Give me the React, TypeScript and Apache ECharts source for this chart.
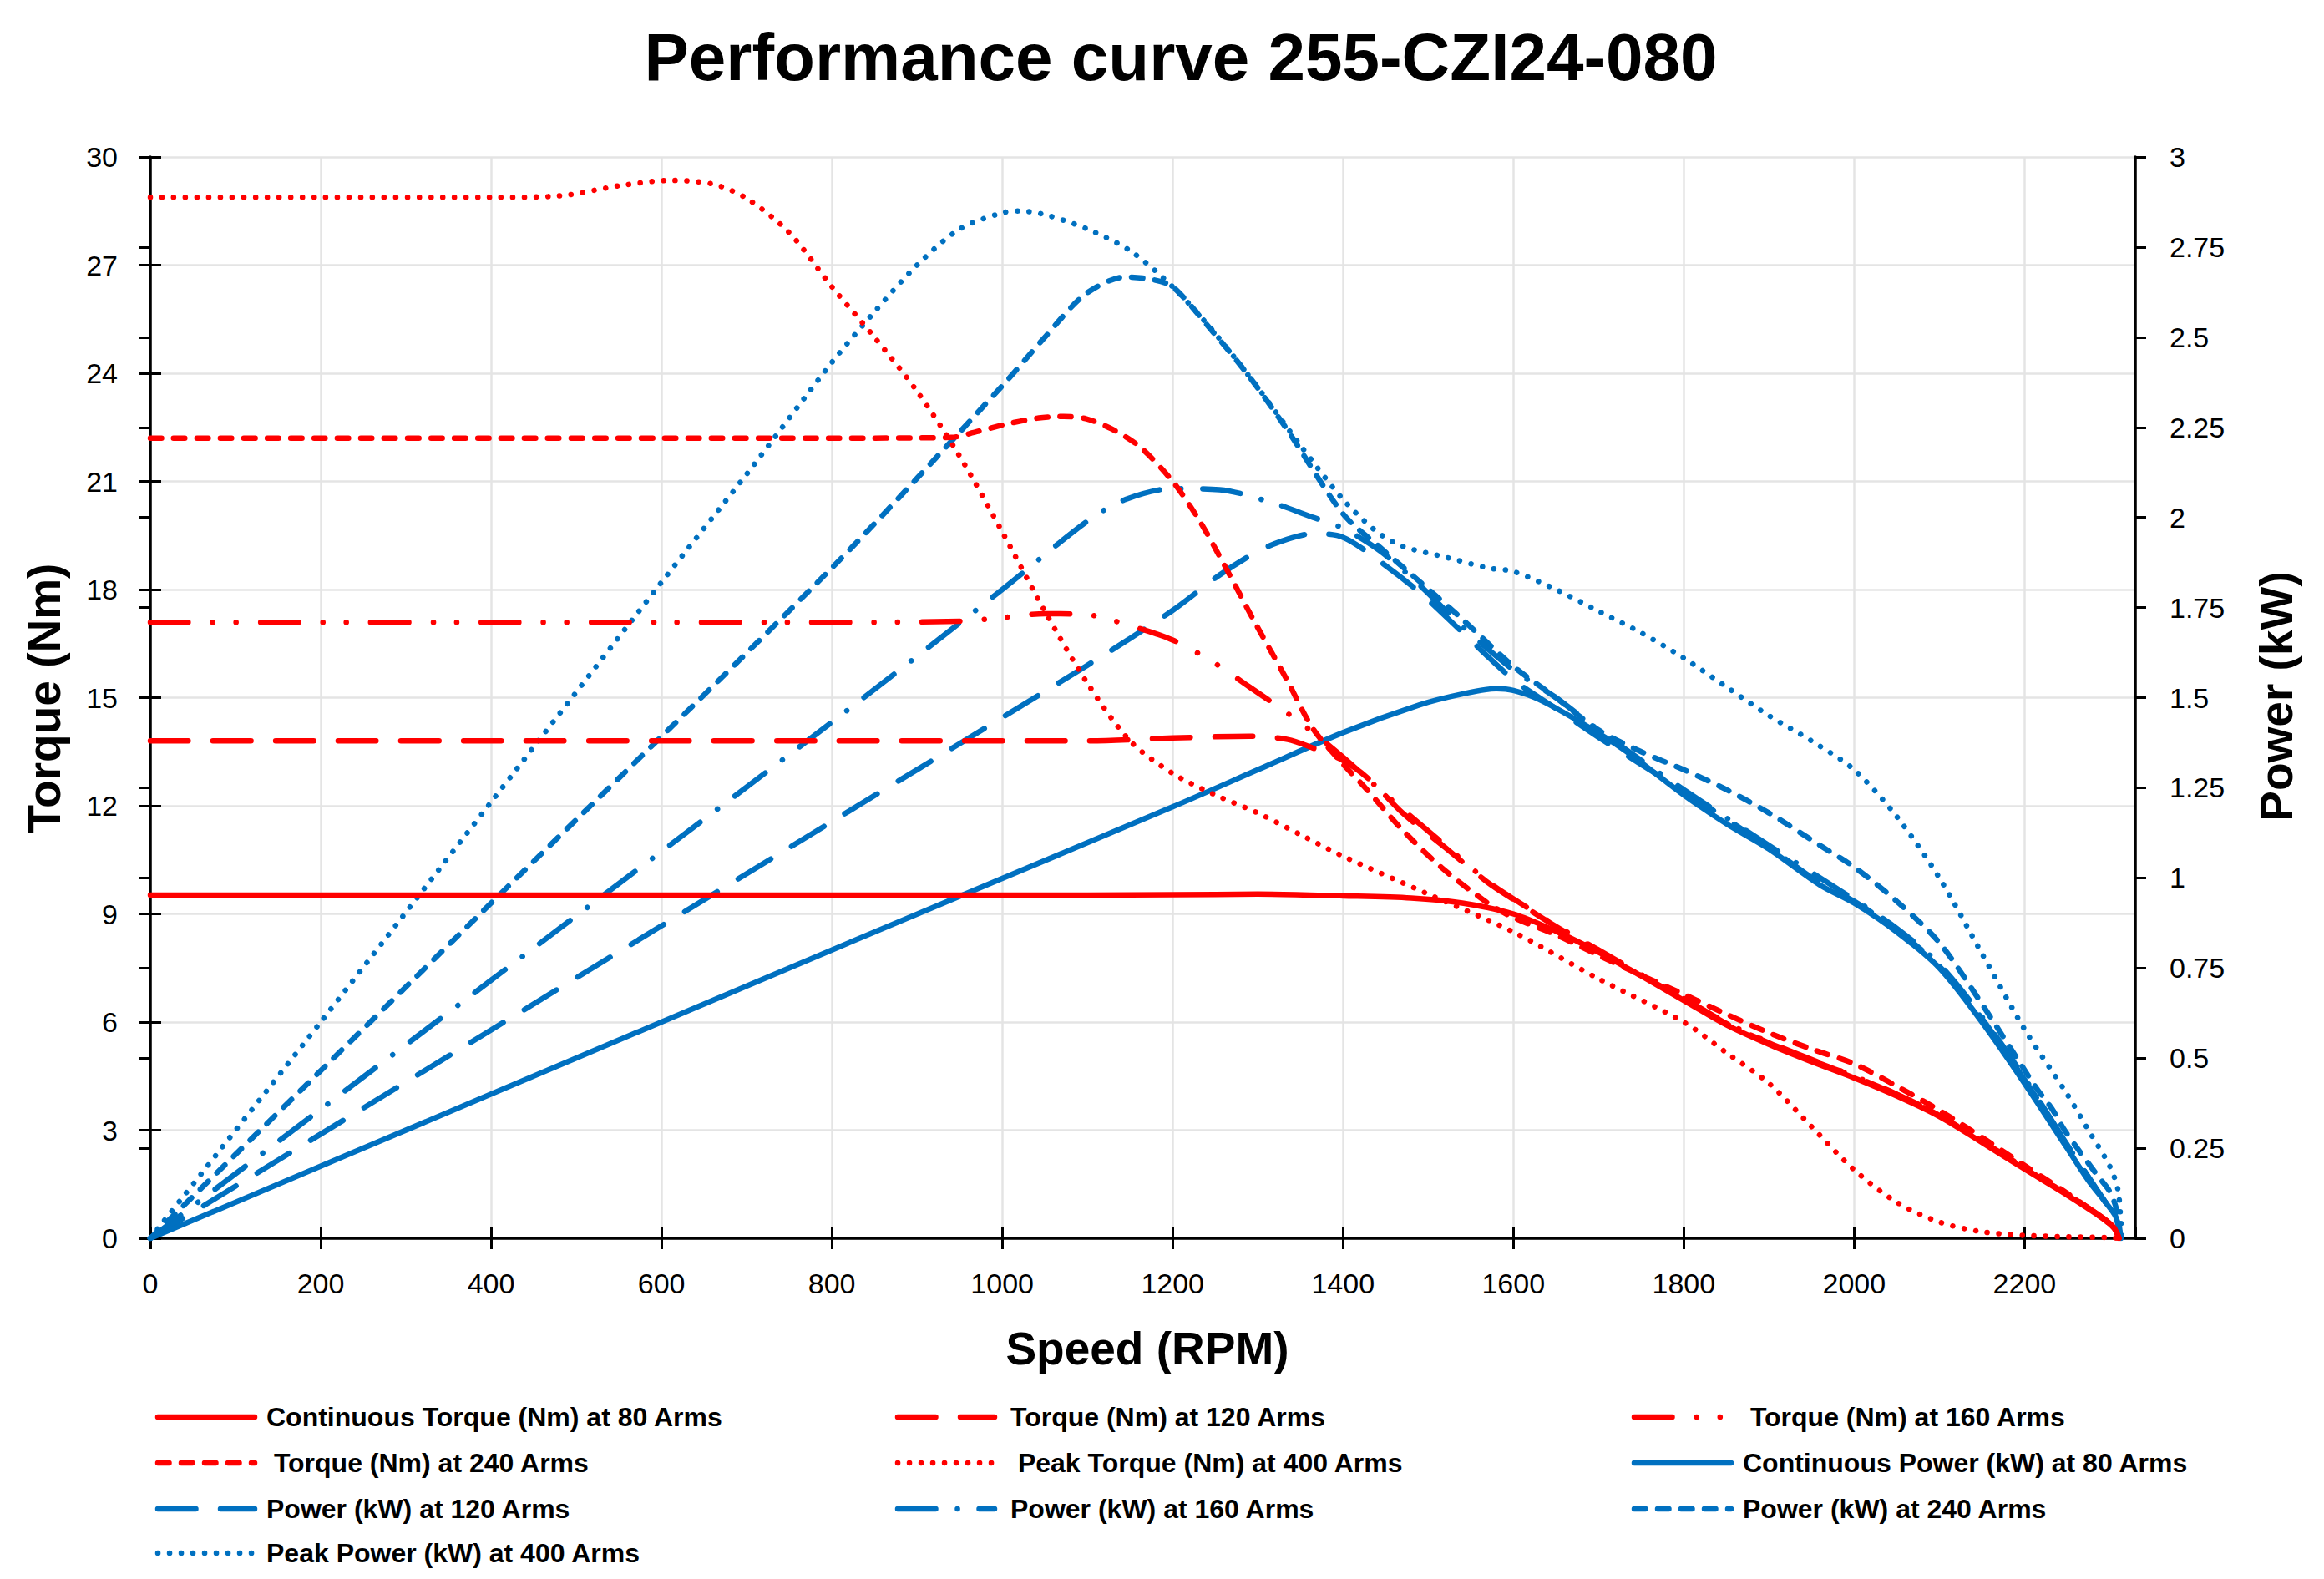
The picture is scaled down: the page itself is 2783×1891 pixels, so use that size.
import React, { useEffect, useRef } from "react";
import * as echarts from "echarts";

const RED = "#FF0000";
const BLUE = "#0070C0";
const FONT = '"Liberation Sans", Arial, sans-serif';

const titleText = "Performance curve 255-CZI24-080";
const xAxisTitle = "Speed (RPM)";
const yLeftTitle = "Torque (Nm)";
const yRightTitle = "Power (kW)";

// ---- Torque curves (Nm) ----
const contTorqueRpm = [0, 200, 400, 600, 800, 1000, 1200, 1300, 1400, 1480, 1540, 1600, 1650, 1700, 1750, 1800, 1850, 1900, 1950, 2000, 2050, 2100, 2150, 2200, 2250, 2290, 2305, 2311];
const contTorque = [9.52, 9.52, 9.52, 9.52, 9.52, 9.52, 9.53, 9.55, 9.5, 9.44, 9.3, 9.0, 8.52, 7.94, 7.28, 6.6, 5.92, 5.38, 4.9, 4.45, 3.95, 3.38, 2.66, 1.92, 1.2, 0.58, 0.28, 0];

const torque120Rpm = [0, 200, 400, 600, 800, 1000, 1100, 1200, 1290, 1335, 1365, 1400, 1430, 1470, 1520, 1570, 1600, 1650, 1700, 1750, 1800, 1850, 1900, 1950, 2000, 2050, 2100, 2150, 2200, 2250, 2290, 2305, 2311];
const torque120 = [13.8, 13.8, 13.8, 13.8, 13.8, 13.8, 13.8, 13.88, 13.93, 13.84, 13.6, 13.26, 12.75, 11.8, 10.84, 9.87, 9.4, 8.65, 7.97, 7.3, 6.64, 5.96, 5.42, 4.94, 4.49, 3.99, 3.41, 2.69, 1.94, 1.22, 0.6, 0.3, 0];

const torque160Rpm = [0, 200, 400, 600, 800, 950, 1000, 1050, 1100, 1150, 1200, 1250, 1290, 1330, 1365, 1400, 1436, 1475, 1520, 1570, 1600, 1650, 1700, 1750, 1800, 1850, 1900, 1950, 2000, 2050, 2100, 2150, 2200, 2250, 2290, 2305, 2311];
const torque160 = [17.09, 17.09, 17.09, 17.09, 17.09, 17.12, 17.22, 17.33, 17.3, 17.0, 16.6, 15.95, 15.3, 14.65, 14.03, 13.35, 12.6, 11.8, 10.9, 9.9, 9.42, 8.68, 8.0, 7.32, 6.66, 5.98, 5.44, 4.96, 4.5, 4.0, 3.42, 2.7, 1.95, 1.22, 0.6, 0.3, 0];

const torque240Rpm = [0, 200, 400, 600, 800, 940, 970, 1007, 1043, 1072, 1098, 1129, 1161, 1200, 1231, 1263, 1294, 1334, 1365, 1400, 1428, 1467, 1515, 1570, 1600, 1650, 1700, 1750, 1800, 1850, 1900, 1950, 2000, 2050, 2100, 2150, 2200, 2250, 2290, 2305, 2311];
const torque240 = [22.2, 22.2, 22.2, 22.2, 22.2, 22.22, 22.38, 22.6, 22.76, 22.8, 22.74, 22.45, 21.97, 21.0, 19.93, 18.58, 17.2, 15.5, 14.13, 13.16, 12.45, 11.4, 10.3, 9.3, 8.9, 8.42, 7.85, 7.3, 6.77, 6.22, 5.7, 5.25, 4.84, 4.22, 3.55, 2.8, 2.02, 1.25, 0.58, 0.28, 0];

const peakTorqueRpm = [0, 200, 400, 480, 550, 610, 660, 700, 750, 800, 850, 900, 950, 1000, 1050, 1100, 1150, 1200, 1250, 1300, 1350, 1400, 1500, 1600, 1700, 1800, 1850, 1900, 1950, 2000, 2050, 2100, 2150, 2200, 2250, 2300, 2311];
const peakTorque = [28.88, 28.88, 28.88, 28.92, 29.2, 29.35, 29.25, 28.85, 27.9, 26.4, 25.0, 23.5, 21.7, 19.6, 17.4, 15.4, 13.8, 12.9, 12.3, 11.8, 11.2, 10.6, 9.55, 8.5, 7.2, 6.0, 5.15, 4.3, 3.1, 1.9, 1.0, 0.45, 0.18, 0.08, 0.04, 0.02, 0];

// ---- Power curves (kW) ----
const contPowerRpm = [0, 400, 800, 1200, 1300, 1400, 1490, 1540, 1580, 1600, 1630, 1680, 1730, 1800, 1850, 1900, 1960, 2000, 2050, 2100, 2150, 2200, 2250, 2275, 2295, 2307, 2313];
const contPower = [0, 0.4, 0.8, 1.197, 1.3, 1.403, 1.48, 1.51, 1.525, 1.52, 1.495, 1.43, 1.355, 1.23, 1.15, 1.08, 0.98, 0.93, 0.85, 0.75, 0.6, 0.43, 0.25, 0.16, 0.1, 0.06, 0];

const power120Rpm = [0, 400, 800, 1100, 1200, 1255, 1300, 1335, 1365, 1400, 1444, 1491, 1539, 1600, 1650, 1700, 1800, 1900, 1960, 2000, 2050, 2100, 2150, 2200, 2250, 2275, 2295, 2307, 2313];
const power120 = [0, 0.578, 1.156, 1.59, 1.742, 1.84, 1.906, 1.94, 1.955, 1.945, 1.877, 1.79, 1.684, 1.55, 1.47, 1.39, 1.24, 1.085, 0.985, 0.935, 0.855, 0.755, 0.61, 0.44, 0.26, 0.17, 0.1, 0.06, 0];

const power160Rpm = [0, 400, 800, 1000, 1100, 1145, 1200, 1255, 1318, 1365, 1400, 1444, 1491, 1539, 1600, 1650, 1700, 1800, 1900, 2000, 2050, 2100, 2150, 2200, 2250, 2275, 2295, 2307, 2313];
const power160 = [0, 0.716, 1.432, 1.8, 1.99, 2.05, 2.08, 2.077, 2.04, 2.0, 1.97, 1.906, 1.81, 1.7, 1.577, 1.5, 1.41, 1.245, 1.09, 0.94, 0.86, 0.76, 0.615, 0.445, 0.26, 0.17, 0.1, 0.06, 0];

const power240Rpm = [0, 400, 800, 1000, 1050, 1098, 1145, 1176, 1200, 1240, 1287, 1334, 1400, 1444, 1491, 1539, 1600, 1650, 1700, 1750, 1800, 1850, 1900, 1960, 2000, 2050, 2100, 2150, 2213, 2232, 2247, 2265, 2287, 2300, 2308, 2313];
const power240 = [0, 0.93, 1.86, 2.365, 2.5, 2.62, 2.667, 2.66, 2.64, 2.535, 2.4, 2.245, 2.01, 1.916, 1.82, 1.72, 1.587, 1.5, 1.41, 1.35, 1.3, 1.245, 1.18, 1.09, 1.03, 0.935, 0.82, 0.65, 0.42, 0.36, 0.3, 0.24, 0.17, 0.13, 0.08, 0];

const peakPowerRpm = [0, 200, 400, 600, 700, 800, 850, 900, 950, 1000, 1020, 1050, 1100, 1150, 1200, 1250, 1300, 1350, 1400, 1440, 1470, 1520, 1570, 1600, 1650, 1700, 1750, 1800, 1850, 1900, 1950, 2000, 2050, 2100, 2150, 2200, 2250, 2275, 2300, 2310, 2314];
const peakPower = [0, 0.6, 1.21, 1.82, 2.12, 2.43, 2.57, 2.7, 2.8, 2.845, 2.85, 2.84, 2.8, 2.74, 2.64, 2.51, 2.36, 2.2, 2.05, 1.96, 1.92, 1.89, 1.86, 1.85, 1.8, 1.74, 1.68, 1.61, 1.53, 1.45, 1.38, 1.3, 1.17, 1.0, 0.79, 0.58, 0.4, 0.3, 0.2, 0.13, 0];

const zip = (xs: number[], ys: number[]) => xs.map((x, i) => [x, ys[i]]);

const W = 6.5;
const SOLID: number[] | null = null;
const LONG_DASH = [45.5, 29.5];
const SHORT_DASH = [13.5, 14.5];
const DOT = [0.1, 13.9];
const LONG_DASH_DOT_DOT = [45.5, 29.25, 0.1, 27.9, 0.1, 29.15];
const LONG_DASH_DOT = [45.5, 26, 0.1, 25.9];

const mk = (name: string, xs: number[], ys: number[], color: string, dash: number[] | null, yAxisIndex: number) => ({
  name,
  type: "line",
  data: zip(xs, ys),
  yAxisIndex,
  xAxisIndex: 0,
  showSymbol: false,
  symbol: "none",
  smooth: 0.3,
  lineStyle: { color, width: W, type: dash ? dash : "solid", cap: "round", join: "round" },
  itemStyle: { color },
  emphasis: { disabled: true },
  z: 3,
});

const N_CT80 = "Continuous Torque (Nm) at 80 Arms";
const N_T120 = "Torque (Nm) at 120 Arms";
const N_T160 = " Torque (Nm) at 160 Arms";
const N_T240 = " Torque (Nm) at 240 Arms";
const N_PT400 = " Peak Torque (Nm) at 400 Arms";
const N_CP80 = "Continuous Power (kW) at 80 Arms";
const N_P120 = "Power (kW) at 120 Arms";
const N_P160 = "Power (kW) at 160 Arms";
const N_P240 = "Power (kW) at 240 Arms";
const N_PP400 = "Peak Power (kW) at 400 Arms";

// legend grid: [name, color, dash, column, row]
const legendItems: [string, string, number[] | null, number, number][] = [
  [N_CT80, RED, SOLID, 0, 0],
  [N_T120, RED, LONG_DASH, 1, 0],
  [N_T160, RED, LONG_DASH_DOT_DOT, 2, 0],
  [N_T240, RED, SHORT_DASH, 0, 1],
  [N_PT400, RED, DOT, 1, 1],
  [N_CP80, BLUE, SOLID, 2, 1],
  [N_P120, BLUE, LONG_DASH, 0, 2],
  [N_P160, BLUE, LONG_DASH_DOT, 1, 2],
  [N_P240, BLUE, SHORT_DASH, 2, 2],
  [N_PP400, BLUE, DOT, 0, 3],
];
const legendColX = [186, 1072, 1954];
const legendTextOffset = [133, 138, 133];
const legendRowY = [1697, 1752, 1807, 1860];

export default function App() {
  const ref = useRef<HTMLDivElement>(null);
  useEffect(() => {
    document.body.style.margin = "0";
    if (!ref.current) return;
    const chart = echarts.init(ref.current, undefined, { renderer: "svg" });

    const axisLineStyle = { color: "#000", width: 3.5 };
    const tickStyle = { color: "#000", width: 3 };
    const labelStyle = { fontFamily: FONT, fontSize: 34, color: "#000" };
    const gridLine = { show: true, lineStyle: { color: "#e4e4e4", width: 2.5 } };

    const legendGraphics: any[] = [];
    legendItems.forEach(([name, color, dash, col, row]) => {
      const x = legendColX[col];
      const y = legendRowY[row];
      legendGraphics.push({
        type: "line",
        shape: { x1: x + 3, y1: y, x2: x + 119, y2: y },
        style: { stroke: color, lineWidth: W, lineDash: dash || undefined, lineCap: "round" },
        silent: true,
      });
      legendGraphics.push({
        type: "text",
        x: x + legendTextOffset[col],
        y,
        style: { text: name, font: `bold 32px ${FONT}`, fill: "#000", align: "left", verticalAlign: "middle" },
        silent: true,
      });
    });

    const option: any = {
      animation: false,
      backgroundColor: "#fff",
      grid: { left: 180, right: 226, top: 188, bottom: 408, containLabel: false },
      xAxis: [
        {
          type: "value", min: 0, max: 2330, interval: 200,
          axisLine: { show: true, onZero: false, lineStyle: axisLineStyle },
          axisTick: { show: true, length: 13, lineStyle: tickStyle },
          axisLabel: { ...labelStyle, margin: 37, showMaxLabel: false, formatter: (v: number) => String(v) },
          splitLine: gridLine,
        },
        {
          type: "value", min: 0, max: 2330, interval: 200, position: "bottom",
          axisLine: { show: false },
          axisTick: { show: true, inside: true, length: 13, lineStyle: tickStyle },
          axisLabel: { show: false },
          splitLine: { show: false },
        },
      ],
      yAxis: [
        {
          type: "value", min: 0, max: 30, interval: 3, position: "left",
          axisLine: { show: true, onZero: false, lineStyle: axisLineStyle },
          axisTick: { show: true, length: 13, lineStyle: tickStyle },
          axisLabel: { ...labelStyle, margin: 39 },
          splitLine: gridLine,
        },
        {
          type: "value", min: 0, max: 3, interval: 0.25, position: "right",
          axisLine: { show: true, onZero: false, lineStyle: axisLineStyle },
          axisTick: { show: true, length: 13, lineStyle: tickStyle },
          axisLabel: { ...labelStyle, margin: 41 },
          splitLine: { show: false },
        },
        {
          type: "value", min: 0, max: 30, interval: 3, position: "left",
          axisLine: { show: false },
          axisTick: { show: true, inside: true, length: 13, lineStyle: tickStyle },
          axisLabel: { show: false },
          splitLine: { show: false },
        },
        {
          type: "value", min: 0, max: 3, interval: 0.25, position: "right",
          axisLine: { show: false },
          axisTick: { show: true, inside: true, length: 13, lineStyle: tickStyle },
          axisLabel: { show: false },
          splitLine: { show: false },
        },
      ],
      graphic: [
        {
          type: "text", x: 1414, y: 68,
          style: { text: titleText, font: `bold 80px ${FONT}`, fill: "#000", align: "center", verticalAlign: "middle" },
        },
        {
          type: "text", x: 1374, y: 1615,
          style: { text: xAxisTitle, font: `bold 55px ${FONT}`, fill: "#000", align: "center", verticalAlign: "middle" },
        },
        {
          type: "text", x: 53, y: 836, rotation: Math.PI / 2,
          style: { text: yLeftTitle, font: `bold 55px ${FONT}`, fill: "#000", align: "center", verticalAlign: "middle" },
        },
        {
          type: "text", x: 2726, y: 834, rotation: Math.PI / 2,
          style: { text: yRightTitle, font: `bold 55px ${FONT}`, fill: "#000", align: "center", verticalAlign: "middle" },
        },
        ...legendGraphics,
      ],
      series: [
        mk(N_PP400, peakPowerRpm, peakPower, BLUE, DOT, 1),
        mk(N_P240, power240Rpm, power240, BLUE, SHORT_DASH, 1),
        mk(N_P160, power160Rpm, power160, BLUE, LONG_DASH_DOT, 1),
        mk(N_P120, power120Rpm, power120, BLUE, LONG_DASH, 1),
        mk(N_CP80, contPowerRpm, contPower, BLUE, SOLID, 1),
        mk(N_PT400, peakTorqueRpm, peakTorque, RED, DOT, 0),
        mk(N_T240, torque240Rpm, torque240, RED, SHORT_DASH, 0),
        mk(N_T160, torque160Rpm, torque160, RED, LONG_DASH_DOT_DOT, 0),
        mk(N_T120, torque120Rpm, torque120, RED, LONG_DASH, 0),
        mk(N_CT80, contTorqueRpm, contTorque, RED, SOLID, 0),
      ],
    };
    chart.setOption(option);
    return () => chart.dispose();
  }, []);
  return <div ref={ref} style={{ width: 2783, height: 1891 }} />;
}
